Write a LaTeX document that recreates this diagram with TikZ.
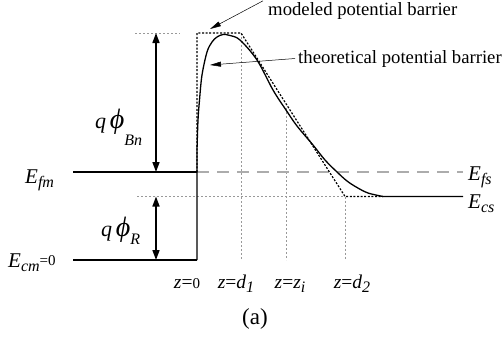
\documentclass[tikz,border=0pt]{standalone}
\usepackage{fontspec}
\setmainfont{Liberation Serif}
\usetikzlibrary{arrows.meta}
\newcommand\subi[1]{\raisebox{-4pt}{\fontsize{16}{16}\selectfont\itshape #1}}
\newcommand\bigphi{{\fontsize{28}{28}\selectfont\itshape ϕ}}
\begin{document}
\begin{tikzpicture}[x=1pt,y=-1pt,
  level/.style={line width=1.3pt},
  guide/.style={gray!80,line width=0.7pt,dash pattern=on 2pt off 2pt},
  model/.style={black,line width=1.2pt,dash pattern=on 2pt off 1.6pt},
  fermi/.style={gray!65,line width=1.3pt,dash pattern=on 12pt off 8pt},
  dimarrow/.style={line width=1.6pt,{Triangle[length=10pt,width=7pt]}-{Triangle[length=10pt,width=7pt]}},
  note/.style={line width=0.5pt,-{Triangle[length=11pt,width=5pt]}},
  lab/.style={inner sep=0pt,anchor=base west,font=\fontsize{21}{21}\selectfont},
  zlab/.style={inner sep=0pt,anchor=base,font=\fontsize{19.5}{19.5}\selectfont},
  txt/.style={inner sep=0pt,anchor=base west,font=\fontsize{18.7}{18.7}\selectfont}]
\useasboundingbox (0,0) rectangle (502,340);
% key points
\coordinate (m0) at (73,172);
\coordinate (m1) at (197,172);
\coordinate (c0) at (73,260);
\coordinate (c1) at (197,260);
\coordinate (fsend) at (463,172);
\coordinate (top) at (197,33);
\coordinate (d1t) at (241,33);
\coordinate (d1b) at (241,260);
\coordinate (zit) at (286,108);
\coordinate (zib) at (286,260);
\coordinate (d2t) at (345,196.5);
\coordinate (d2b) at (345,260);
\coordinate (flat) at (383,196.5);
\coordinate (csend) at (463,196.5);
\coordinate (g1a) at (135,33);
\coordinate (g1b) at (180,33);
\coordinate (g2a) at (137,196.5);
\coordinate (bn1) at (156,33);
\coordinate (bn2) at (156,172);
\coordinate (r1) at (156,196.5);
\coordinate (r2) at (156,260);
% guides
\draw[guide] (g1a) -- (g1b);
\draw[guide] (g2a) -- (d2t);
\draw[guide] (d1t) -- (d1b);
\draw[guide] (zit) -- (zib);
\draw[guide] (d2t) -- (d2b);
\draw[fermi] (m1) -- (fsend);
% levels
\draw[level] (m0) -- (m1);
\draw[level] (c0) -- (c1);
% modeled barrier
\draw[model] (m1) -- (top) -- (d1t) -- (d2t) -- (flat);
% theoretical barrier
\draw[level] (c1) -- plot[smooth,tension=0.55] coordinates {(197,150) (198,120) (199.5,100) (202,75) (207,52) (212,42) (217,37) (223,34.5) (230,35.5) (240,40) (257,60) (273,90) (286,110) (297,126) (313,145) (325,160) (337,172) (347,181) (357,187.5) (368,193) (383,196.5)} -- (csend);
% dimension arrows
\draw[dimarrow] (bn1) -- (bn2);
\draw[dimarrow] (r1) -- (r2);
% labels
\node[lab] (lfm) at (25,183) {\textit{E}\subi{fm}};
\node[lab] (lcm) at (8,267) {\textit{E}\subi{cm}\raisebox{1.5pt}{\fontsize{15}{15}\selectfont =0}};
\node[lab] (lfs) at (468,180) {\textit{E}\subi{fs}};
\node[lab] (lcs) at (468,208) {\textit{E}\subi{cs}};
\node[lab,font=\fontsize{22}{22}\selectfont] (lbn) at (95,128) {\textit{q}\,\bigphi\raisebox{-17pt}{\fontsize{16}{16}\selectfont\itshape Bn}};
\node[lab,font=\fontsize{22}{22}\selectfont] (lr) at (101,236) {\textit{q}\,\bigphi\raisebox{-8pt}{\fontsize{16}{16}\selectfont\itshape R}};
\node[zlab] (z0) at (187,288) {\textit{z}={\fontsize{15}{15}\selectfont 0}};
\node[zlab] (zd1) at (236,288) {\textit{z}=\textit{d}\subi{1}};
\node[zlab] (zzi) at (290,288) {\textit{z}=\textit{z}\subi{i}};
\node[zlab] (zd2) at (352,288) {\textit{z}=\textit{d}\subi{2}};
\node[inner sep=0pt,anchor=base,font=\fontsize{23}{23}\selectfont] (cap) at (255,324) {(a)};
% annotations
\node[txt] (mod) at (268,15) {modeled potential barrier};
\node[txt] (theo) at (298,63) {theoretical potential barrier};
\coordinate (modtip) at (210,29);
\coordinate (theotip) at (210,65);
\draw[note] ([xshift=-5pt,yshift=1pt]mod.north west) -- (modtip);
\draw[note] ([xshift=-3pt]theo.west) -- (theotip);
\end{tikzpicture}
\end{document}
